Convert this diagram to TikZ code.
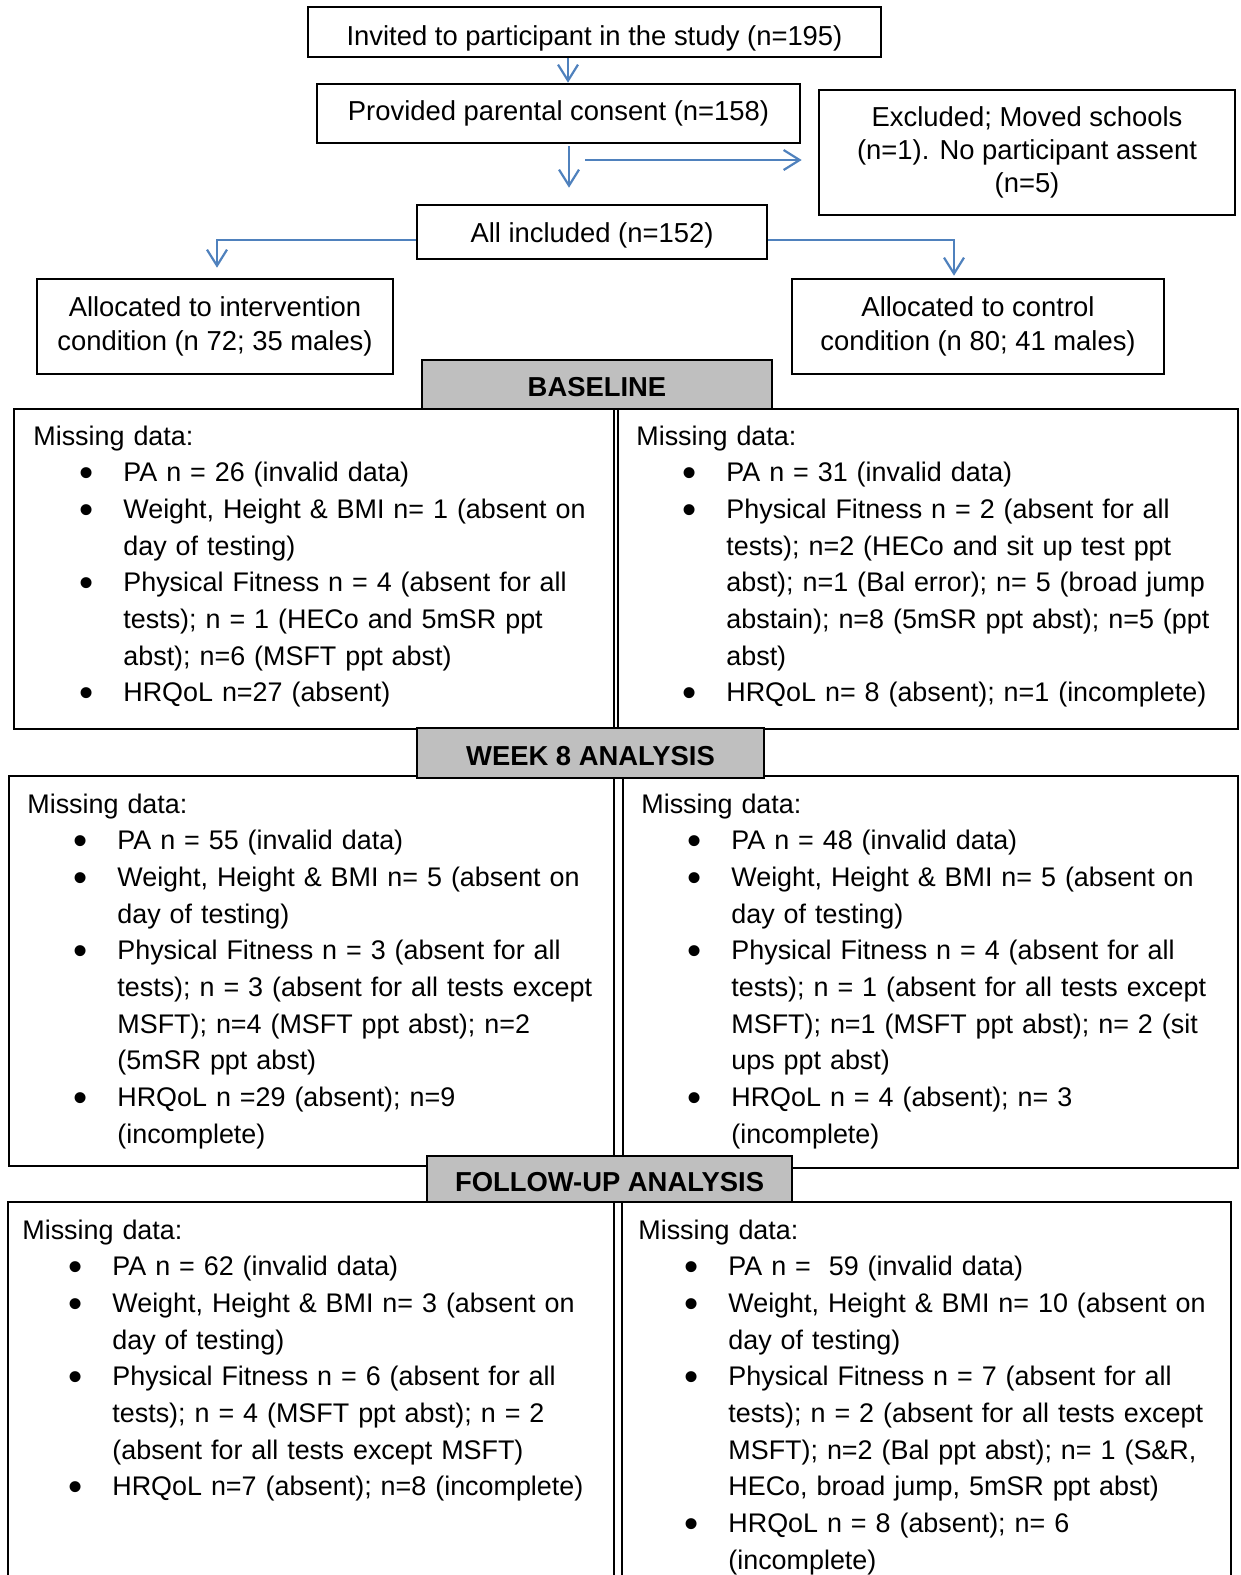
\documentclass[tikz,border=0pt]{standalone}
\usepackage{fontspec}
\setmainfont{Liberation Sans}
\usetikzlibrary{arrows.meta}
\definecolor{flowblue}{HTML}{4F81BD}
\definecolor{headgray}{HTML}{BFBFBF}
\newcommand{\missbul}{\hspace*{22.8pt}\makebox[22.2pt][l]{\raisebox{-2.4pt}{\scalebox{1.5}{\textbullet}}}}
\newcommand{\misscont}{\hspace*{45pt}}
\tikzset{
  box/.style={draw, line width=1.3pt, inner sep=0pt, align=center},
  header/.style={box, fill=headgray, text height=12.3pt, text depth=0pt, font=\fontsize{13.7pt}{16pt}\selectfont\bfseries},
  panel/.style={line width=1.3pt},
  missing/.style={anchor=base west, inner sep=0pt, text width=300pt, align=left, font=\fontsize{13.45pt}{18.35pt}\selectfont},
  flow/.style={draw=flowblue, line width=1.1pt, -{Straight Barb[length=8pt,width=10pt]}},
}
\begin{document}
\begin{tikzpicture}[x=0.5pt,y=-0.5pt,font=\fontsize{13.7pt}{18.35pt}\selectfont]
\useasboundingbox (0,0) rectangle (1241,1575);
% flow chart at the top
\node[box, minimum width=286.5pt, minimum height=25pt, text height=13.4pt, text depth=0pt] (invited) at (594.5,32) {Invited to participant in the study (n=195)};
\node[box, minimum width=241.5pt, minimum height=29.5pt] (consent) at (558.5,113.5) {Provided parental consent (n=158)};
\node[box, minimum width=208pt, minimum height=62.5pt, font=\fontsize{13.7pt}{16.5pt}\selectfont] (excluded) at (1027,152.5) {Excluded; Moved schools\\(n=1). No participant assent\\(n=5)};
\node[box, minimum width=175pt, minimum height=27pt, text height=10.4pt, text depth=0pt] (included) at (592,232) {All included (n=152)};
\node[box, minimum width=178pt, minimum height=47.5pt, font=\fontsize{13.7pt}{17pt}\selectfont] (interv) at (215,326.5) {Allocated to intervention\\condition (n 72; 35 males)};
\node[box, minimum width=186pt, minimum height=47.5pt, font=\fontsize{13.7pt}{17pt}\selectfont] (control) at (978,326.5) {Allocated to control\\condition (n 80; 41 males)};

\coordinate (stemA) at (568,0); % first arrow
\coordinate (stemB) at (569,0); % second arrow
\coordinate (split) at (585,160);
\coordinate (branch) at (0,240);
\coordinate (leftdrop) at (217,0);
\coordinate (rightdrop) at (954,0);
\draw[flow] (invited.south -| stemA) -- (consent.north -| stemA);
\draw[flow, shorten <=1pt, shorten >=8pt] (consent.south -| stemB) -- (included.north -| stemB);
\draw[flow, shorten >=8pt] (split) -- (split -| excluded.west);
\draw[flow, shorten >=5pt] (included.west |- branch) -| (interv.north -| leftdrop);
\draw[flow, shorten >=1pt] (included.east |- branch) -| (control.north -| rightdrop);

% the three stages, two panels each
\draw[panel] (14,409) rectangle (614,729);
\draw[panel] (618,409) rectangle (1238,729);
\draw[panel] (9,776) rectangle (614,1166);
\draw[panel] (623,776) rectangle (1238,1168);
\draw[panel] (8,1202) rectangle (614,1620);
\draw[panel] (622,1202) rectangle (1231,1620);

\node[header, minimum width=175pt, minimum height=24.5pt] (baseline) at (597,384.5) {BASELINE};
\node[header, minimum width=173.5pt, minimum height=25pt] (week8) at (590.5,753) {WEEK 8 ANALYSIS};
\node[header, minimum width=182.5pt, minimum height=23pt] (followup) at (609.5,1179) {FOLLOW-UP ANALYSIS};

% missing data lists
\node[missing] (base left) at (33,445) {Missing data:\\
\missbul PA n = 26 (invalid data)\\
\missbul Weight, Height \& BMI n= 1 (absent on\\
\misscont day of testing)\\
\missbul Physical Fitness n = 4 (absent for all\\
\misscont tests); n = 1 (HECo and 5mSR ppt\\
\misscont abst); n=6 (MSFT ppt abst)\\
\missbul HRQoL n=27 (absent)};
\node[missing] (base right) at (636,445) {Missing data:\\
\missbul PA n = 31 (invalid data)\\
\missbul Physical Fitness n = 2 (absent for all\\
\misscont tests); n=2 (HECo and sit up test ppt\\
\misscont abst); n=1 (Bal error); n= 5 (broad jump\\
\misscont abstain); n=8 (5mSR ppt abst); n=5 (ppt\\
\misscont abst)\\
\missbul HRQoL n= 8 (absent); n=1 (incomplete)};
\node[missing] (week8 left) at (27,813) {Missing data:\\
\missbul PA n = 55 (invalid data)\\
\missbul Weight, Height \& BMI n= 5 (absent on\\
\misscont day of testing)\\
\missbul Physical Fitness n = 3 (absent for all\\
\misscont tests); n = 3 (absent for all tests except\\
\misscont MSFT); n=4 (MSFT ppt abst); n=2\\
\misscont (5mSR ppt abst)\\
\missbul HRQoL n =29 (absent); n=9\\
\misscont (incomplete)};
\node[missing] (week8 right) at (641,813) {Missing data:\\
\missbul PA n = 48 (invalid data)\\
\missbul Weight, Height \& BMI n= 5 (absent on\\
\misscont day of testing)\\
\missbul Physical Fitness n = 4 (absent for all\\
\misscont tests); n = 1 (absent for all tests except\\
\misscont MSFT); n=1 (MSFT ppt abst); n= 2 (sit\\
\misscont ups ppt abst)\\
\missbul HRQoL n = 4 (absent); n= 3\\
\misscont (incomplete)};
\node[missing] (follow left) at (22,1239) {Missing data:\\
\missbul PA n = 62 (invalid data)\\
\missbul Weight, Height \& BMI n= 3 (absent on\\
\misscont day of testing)\\
\missbul Physical Fitness n = 6 (absent for all\\
\misscont tests); n = 4 (MSFT ppt abst); n = 2\\
\misscont (absent for all tests except MSFT)\\
\missbul HRQoL n=7 (absent); n=8 (incomplete)};
\node[missing] (follow right) at (638,1239) {Missing data:\\
\missbul PA n =~ 59 (invalid data)\\
\missbul Weight, Height \& BMI n= 10 (absent on\\
\misscont day of testing)\\
\missbul Physical Fitness n = 7 (absent for all\\
\misscont tests); n = 2 (absent for all tests except\\
\misscont MSFT); n=2 (Bal ppt abst); n= 1 (S\&R,\\
\misscont HECo, broad jump, 5mSR ppt abst)\\
\missbul HRQoL n = 8 (absent); n= 6\\
\misscont (incomplete)};
\end{tikzpicture}
\end{document}
